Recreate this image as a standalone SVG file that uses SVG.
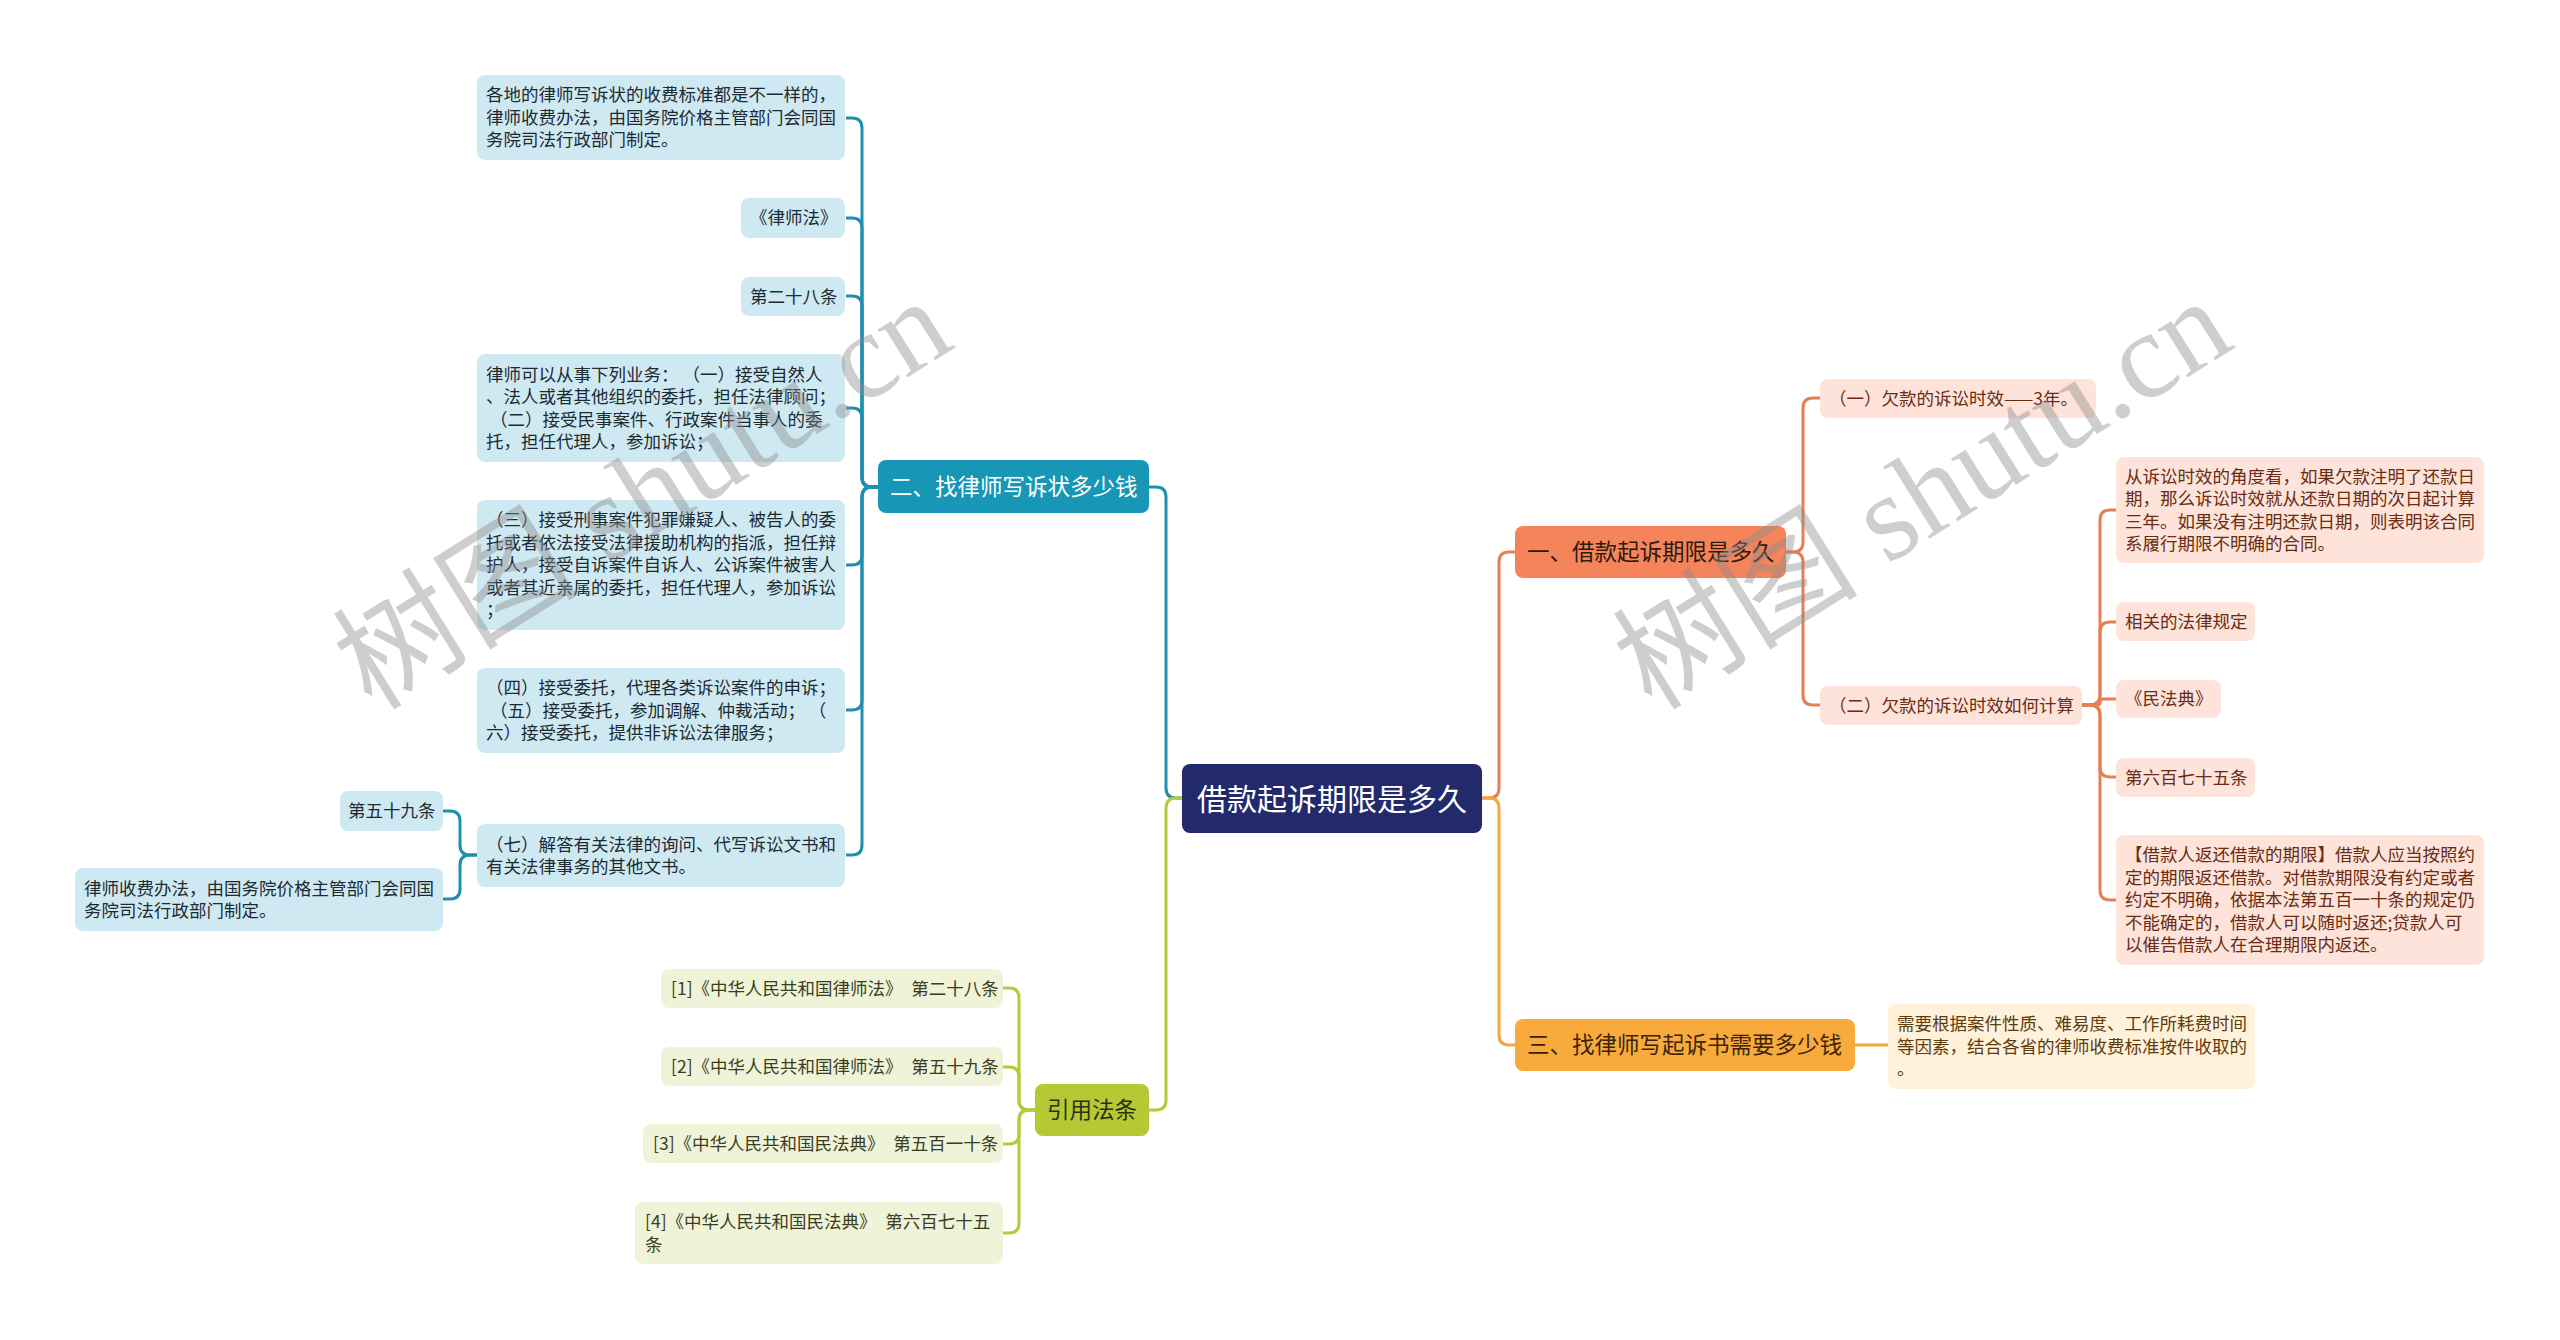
<svg xmlns="http://www.w3.org/2000/svg" width="2560" height="1340" viewBox="0 0 2560 1340">
<style>
text { font-family: "Noto Sans CJK SC", "Microsoft YaHei", sans-serif; }
.s { font-size: 17.5px; }
.m { font-size: 22.5px; }
.root { font-size: 30px; fill: #ffffff; }
.tc { fill: #cfe9f2; }
.tt { fill: #1d2a32; }
.oc { fill: #fde3d9; }
.ot { fill: #6a2c12; }
.yc { fill: #fff1da; }
.yt { fill: #5e3c0e; }
.gc { fill: #eff3d8; }
.gt { fill: #3b3c22; }
.ln { fill: none; stroke-width: 3; }
.lt { stroke: #1f8fae; }
.lo { stroke: #e57f56; }
.ly { stroke: #f4a63a; }
.lg { stroke: #b6c93a; }
.wm { font-family: "Liberation Serif", "Noto Sans CJK SC", serif; font-size: 123px; fill: #8c8c8c; opacity: 0.42; }
</style>
<rect width="2560" height="1340" fill="#ffffff"/>
<g id="connectors">
<path class="ln lt" d="M1182,798H1176Q1166,798 1166,788V497Q1166,487 1156,487H1149"/>
<path class="ln lg" d="M1182,798H1176Q1166,798 1166,808V1100Q1166,1110 1156,1110H1149"/>
<path class="ln lo" d="M1482,798H1489Q1499,798 1499,788V562Q1499,552 1509,552H1515"/>
<path class="ln ly" d="M1482,798H1489Q1499,798 1499,808V1035Q1499,1045 1509,1045H1515"/>
<path class="ln lt" d="M878,487H872Q862,487 862,477V128Q862,118 852,118H846"/>
<path class="ln lt" d="M878,487H872Q862,487 862,477V228Q862,218 852,218H846"/>
<path class="ln lt" d="M878,487H872Q862,487 862,477V306Q862,296 852,296H846"/>
<path class="ln lt" d="M878,487H872Q862,487 862,477V418Q862,408 852,408H846"/>
<path class="ln lt" d="M878,487H872Q862,487 862,497V555Q862,565 852,565H846"/>
<path class="ln lt" d="M878,487H872Q862,487 862,497V700Q862,710 852,710H846"/>
<path class="ln lt" d="M878,487H872Q862,487 862,497V845Q862,855 852,855H846"/>
<path class="ln lt" d="M477,855H470Q460,855 460,845V821Q460,811 450,811H443"/>
<path class="ln lt" d="M477,855H470Q460,855 460,865V889Q460,899 450,899H443"/>
<path class="ln lg" d="M1035,1110H1029Q1019,1110 1019,1100V998Q1019,988 1009,988H1003"/>
<path class="ln lg" d="M1035,1110H1029Q1019,1110 1019,1100V1077Q1019,1067 1009,1067H1003"/>
<path class="ln lg" d="M1035,1110H1029Q1019,1110 1019,1120V1134Q1019,1144 1009,1144H1003"/>
<path class="ln lg" d="M1035,1110H1029Q1019,1110 1019,1120V1223Q1019,1233 1009,1233H1003"/>
<path class="ln lo" d="M1786,552H1793Q1803,552 1803,542V408Q1803,398 1813,398H1820"/>
<path class="ln lo" d="M1786,552H1793Q1803,552 1803,562V695Q1803,705 1813,705H1820"/>
<path class="ln lo" d="M2082,705H2090Q2100,705 2100,695V520Q2100,510 2110,510H2116"/>
<path class="ln lo" d="M2082,705H2090Q2100,705 2100,695V632Q2100,622 2110,622H2116"/>
<path class="ln lo" d="M2082,705H2097Q2100,705 2100,702Q2100,699 2103,699H2116"/>
<path class="ln lo" d="M2082,705H2090Q2100,705 2100,715V767Q2100,777 2110,777H2116"/>
<path class="ln lo" d="M2082,705H2090Q2100,705 2100,715V890Q2100,900 2110,900H2116"/>
<path class="ln ly" d="M1855,1045H1888"/>
</g>
<g id="root">
<rect x="1182" y="764" width="300" height="69" rx="8" fill="#232a6b"/>
<text class="root" x="1332" y="809.5" text-anchor="middle">借款起诉期限是多久</text>
</g>
<g id="b2">
<rect x="878" y="460" width="271" height="53" rx="8" fill="#1896b5"/>
<text class="m" x="890" y="494.8" fill="#ffffff">二、找律师写诉状多少钱</text>
</g>
<g id="b1">
<rect x="1515" y="526" width="271" height="52" rx="8" fill="#f5845a"/>
<text class="m" x="1527" y="560.3" fill="#2e1a10">一、借款起诉期限是多久</text>
</g>
<g id="b3">
<rect x="1515" y="1019" width="340" height="52" rx="8" fill="#f9aa3c"/>
<text class="m" x="1527" y="1053.3" fill="#3b2508">三、找律师写起诉书需要多少钱</text>
</g>
<g id="b4">
<rect x="1035" y="1084" width="114" height="52" rx="8" fill="#b5c935"/>
<text class="m" x="1047" y="1118.3" fill="#2d3010">引用法条</text>
</g>
<g id="t1">
<rect class="tc" x="477" y="75" width="368" height="85" rx="8"/>
<text class="s tt"><tspan x="486" y="101.3">各地的律师写诉状的收费标准都是不一样的，</tspan><tspan x="486" y="123.8">律师收费办法，由国务院价格主管部门会同国</tspan><tspan x="486" y="146.3">务院司法行政部门制定。</tspan></text>
</g>
<g id="t2">
<rect class="tc" x="741" y="198" width="104" height="40" rx="8"/>
<text class="s tt" x="750" y="224.3">《律师法》</text>
</g>
<g id="t3">
<rect class="tc" x="741" y="277" width="104" height="39" rx="8"/>
<text class="s tt" x="750" y="302.8">第二十八条</text>
</g>
<g id="t4">
<rect class="tc" x="477" y="354" width="368" height="108" rx="8"/>
<text class="s tt"><tspan x="486" y="380.6">律师可以从事下列业务： （一）接受自然人</tspan><tspan x="486" y="403.1">、法人或者其他组织的委托，担任法律顾问；</tspan><tspan x="486" y="425.6" xml:space="preserve"> （二）接受民事案件、行政案件当事人的委</tspan><tspan x="486" y="448.1">托，担任代理人，参加诉讼；</tspan></text>
</g>
<g id="t5">
<rect class="tc" x="477" y="500" width="368" height="130" rx="8"/>
<text class="s tt"><tspan x="486" y="526.3">（三）接受刑事案件犯罪嫌疑人、被告人的委</tspan><tspan x="486" y="548.8">托或者依法接受法律援助机构的指派，担任辩</tspan><tspan x="486" y="571.3">护人，接受自诉案件自诉人、公诉案件被害人</tspan><tspan x="486" y="593.8">或者其近亲属的委托，担任代理人，参加诉讼</tspan><tspan x="486" y="616.3">；</tspan></text>
</g>
<g id="t6">
<rect class="tc" x="477" y="668" width="368" height="85" rx="8"/>
<text class="s tt"><tspan x="486" y="694.3">（四）接受委托，代理各类诉讼案件的申诉；</tspan><tspan x="486" y="716.8" xml:space="preserve"> （五）接受委托，参加调解、仲裁活动； （</tspan><tspan x="486" y="739.3">六）接受委托，提供非诉讼法律服务；</tspan></text>
</g>
<g id="t7">
<rect class="tc" x="477" y="824" width="368" height="63" rx="8"/>
<text class="s tt"><tspan x="486" y="850.6">（七）解答有关法律的询问、代写诉讼文书和</tspan><tspan x="486" y="873.1">有关法律事务的其他文书。</tspan></text>
</g>
<g id="t8">
<rect class="tc" x="340" y="791" width="103" height="40" rx="8"/>
<text class="s tt" x="348" y="817.3">第五十九条</text>
</g>
<g id="t9">
<rect class="tc" x="75" y="868" width="368" height="63" rx="8"/>
<text class="s tt"><tspan x="84" y="894.6">律师收费办法，由国务院价格主管部门会同国</tspan><tspan x="84" y="917.1">务院司法行政部门制定。</tspan></text>
</g>
<g id="g1">
<rect class="gc" x="661" y="969" width="342" height="39" rx="8"/>
<text class="s gt" x="671" y="994.8">[1]《中华人民共和国律师法》　第二十八条</text>
</g>
<g id="g2">
<rect class="gc" x="661" y="1047" width="342" height="39" rx="8"/>
<text class="s gt" x="671" y="1072.8">[2]《中华人民共和国律师法》　第五十九条</text>
</g>
<g id="g3">
<rect class="gc" x="643" y="1124" width="360" height="39" rx="8"/>
<text class="s gt" x="653" y="1149.8">[3]《中华人民共和国民法典》　第五百一十条</text>
</g>
<g id="g4">
<rect class="gc" x="635" y="1202" width="368" height="62" rx="8"/>
<text class="s gt"><tspan x="645" y="1228.1">[4]《中华人民共和国民法典》　第六百七十五</tspan><tspan x="645" y="1250.6">条</tspan></text>
</g>
<g id="o1">
<rect class="oc" x="1820" y="379" width="276" height="39" rx="8"/>
<text class="s ot" x="1829" y="404.8">（一）欠款的诉讼时效——3年。</text>
</g>
<g id="o2">
<rect class="oc" x="1820" y="686" width="262" height="39" rx="8"/>
<text class="s ot" x="1829" y="711.8">（二）欠款的诉讼时效如何计算</text>
</g>
<g id="o3">
<rect class="oc" x="2116" y="457" width="368" height="106" rx="8"/>
<text class="s ot"><tspan x="2125" y="482.6">从诉讼时效的角度看，如果欠款注明了还款日</tspan><tspan x="2125" y="505.1">期，那么诉讼时效就从还款日期的次日起计算</tspan><tspan x="2125" y="527.6">三年。如果没有注明还款日期，则表明该合同</tspan><tspan x="2125" y="550.1">系履行期限不明确的合同。</tspan></text>
</g>
<g id="o4">
<rect class="oc" x="2116" y="602" width="139" height="39" rx="8"/>
<text class="s ot" x="2125" y="627.8">相关的法律规定</text>
</g>
<g id="o5">
<rect class="oc" x="2116" y="680" width="105" height="38" rx="8"/>
<text class="s ot" x="2125" y="705.3">《民法典》</text>
</g>
<g id="o6">
<rect class="oc" x="2116" y="758" width="139" height="39" rx="8"/>
<text class="s ot" x="2125" y="783.8">第六百七十五条</text>
</g>
<g id="o7">
<rect class="oc" x="2116" y="835" width="368" height="130" rx="8"/>
<text class="s ot"><tspan x="2125" y="861.3">【借款人返还借款的期限】借款人应当按照约</tspan><tspan x="2125" y="883.8">定的期限返还借款。对借款期限没有约定或者</tspan><tspan x="2125" y="906.3">约定不明确，依据本法第五百一十条的规定仍</tspan><tspan x="2125" y="928.8">不能确定的，借款人可以随时返还;贷款人可</tspan><tspan x="2125" y="951.3">以催告借款人在合理期限内返还。</tspan></text>
</g>
<g id="y1">
<rect class="yc" x="1888" y="1004" width="367" height="85" rx="8"/>
<text class="s yt"><tspan x="1897" y="1030.3">需要根据案件性质、难易度、工作所耗费时间</tspan><tspan x="1897" y="1052.8">等因素，结合各省的律师收费标准按件收取的</tspan><tspan x="1897" y="1075.3">。</tspan></text>
</g>
<g id="watermark">
<text class="wm" transform="translate(372,712) rotate(-32)">树图 shutu.cn</text>
<text class="wm" transform="translate(1652,712) rotate(-32)">树图 shutu.cn</text>
</g>
</svg>
